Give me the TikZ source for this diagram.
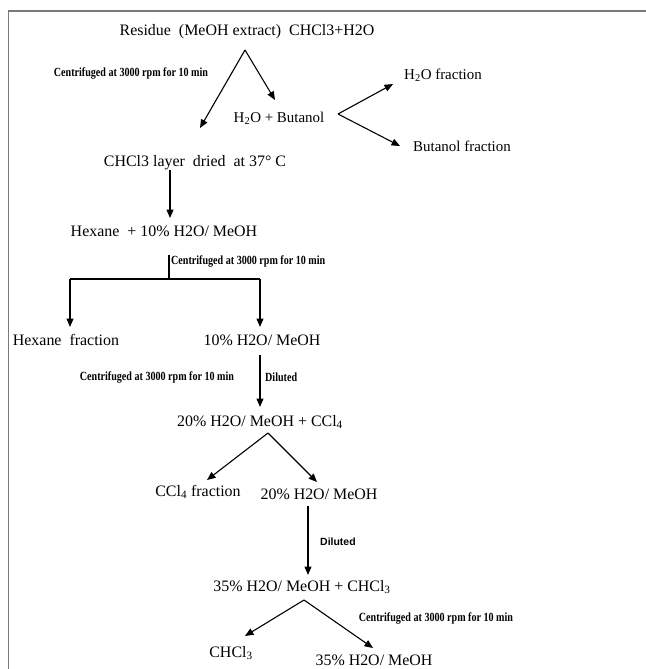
\documentclass[tikz,border=0pt]{standalone}
\usepackage{fontspec}
\setmainfont{Liberation Serif}
\newfontfamily\condfont[FakeStretch=0.81]{Liberation Serif}
\newfontfamily\labelsans{Liberation Sans}
\usetikzlibrary{arrows.meta}
\definecolor{frcInk}{HTML}{000000}
\definecolor{frcFrame}{HTML}{7A7A7A}
\tikzset{
  frc frame/.style={draw=frcFrame, line width=2pt},
  frc line/.style={draw=frcInk, line width=1.1pt},
  frc arrow/.style={frc line, -{Triangle[length=8.5pt,width=7pt]}},
  frc text/.style={inner sep=0pt, text=frcInk, font=\fontsize{16}{18}\selectfont},
  frc side/.style={inner sep=0pt, text=frcInk, font=\fontsize{15}{17}\selectfont},
  frc note/.style={inner sep=0pt, text=frcInk, font=\condfont\bfseries\fontsize{12.5}{14}\selectfont},
  frc sans note/.style={inner sep=0pt, text=frcInk, font=\labelsans\bfseries\fontsize{10.5}{12}\selectfont},
}
\begin{document}
\begin{tikzpicture}[x=1bp,y=-1bp]
  \useasboundingbox (0,0) rectangle (646,669);
  \draw[frc frame] (8.5,669) -- (8.5,11) -- (646,11);

  \node[frc text] (residue) at (247,32) {Residue~ (MeOH extract)~ CHCl3+H2O};
  \node[frc note] (centrA) at (131,73) {Centrifuged at 3000 rpm for 10 min};
  \node[frc side] (butmix) at (279,118) {H\textsubscript{2}O + Butanol};
  \node[frc side] (waterfrac) at (443,75) {H\textsubscript{2}O fraction};
  \node[frc side] (butfrac) at (462,146) {Butanol fraction};
  \node[frc text] (chlayer) at (195,163) {CHCl3 layer~ dried~ at 37° C};
  \node[frc text] (hexmix) at (164,231) {Hexane~ + 10\% H2O/ MeOH};
  \node[frc note, anchor=west] (centrB) at (171,261) {Centrifuged at 3000 rpm for 10 min};
  \node[frc text] (hexfrac) at (66,340) {Hexane~ fraction};
  \node[frc text] (tenmix) at (262,340) {10\% H2O/ MeOH};
  \node[frc note] (centrC) at (157,377) {Centrifuged at 3000 rpm for 10 min};
  \node[frc note, anchor=west] (dilA) at (265,377) {Diluted};
  \node[frc text] (twentymix) at (260,422) {20\% H2O/ MeOH + CCl\textsubscript{4}};
  \node[frc text] (cclfrac) at (198,492) {CCl\textsubscript{4} fraction};
  \node[frc text] (twentyaq) at (319,494) {20\% H2O/ MeOH};
  \node[frc sans note, anchor=west] (dilB) at (320,542) {Diluted};
  \node[frc text] (thirtymix) at (302,587) {35\% H2O/ MeOH + CHCl\textsubscript{3}};
  \node[frc note] (centrD) at (436,618) {Centrifuged at 3000 rpm for 10 min};
  \node[frc text] (chclfrac) at (231,653) {CHCl\textsubscript{3}};
  \node[frc text] (thirtyaq) at (374,660) {35\% H2O/ MeOH};

  \coordinate (splitA) at (245,50);
  \coordinate (tipA1) at (200,128);
  \coordinate (tipA2) at (275,100);
  \coordinate (splitB) at (338,114);
  \coordinate (tipB1) at (393,84);
  \coordinate (tipB2) at (400,146);
  \coordinate (downA) at (170,170);
  \coordinate (tipC) at (170,218);
  \coordinate (stem) at (169,255);
  \coordinate (fork) at (169,279);
  \coordinate (forkL) at (70,279);
  \coordinate (forkR) at (260,279);
  \coordinate (tipD1) at (70,327);
  \coordinate (tipD2) at (260,327);
  \coordinate (downE) at (260,355);
  \coordinate (tipE) at (260,407);
  \coordinate (splitF) at (268,433);
  \coordinate (tipF1) at (207,480);
  \coordinate (tipF2) at (317,482);
  \coordinate (downG) at (308,506);
  \coordinate (tipG) at (308,575);
  \coordinate (splitH) at (304,600);
  \coordinate (tipH1) at (245,636);
  \coordinate (tipH2) at (373,648);

  \draw[frc arrow] (splitA) -- (tipA1);
  \draw[frc arrow] (splitA) -- (tipA2);
  \draw[frc arrow] (splitB) -- (tipB1);
  \draw[frc arrow] (splitB) -- (tipB2);
  \draw[frc arrow] (downA) -- (tipC);
  \draw[frc line] (stem) -- (fork);
  \draw[frc line] (forkL) -- (forkR);
  \draw[frc arrow] (forkL) -- (tipD1);
  \draw[frc arrow] (forkR) -- (tipD2);
  \draw[frc arrow] (downE) -- (tipE);
  \draw[frc arrow] (splitF) -- (tipF1);
  \draw[frc arrow] (splitF) -- (tipF2);
  \draw[frc arrow] (downG) -- (tipG);
  \draw[frc arrow] (splitH) -- (tipH1);
  \draw[frc arrow] (splitH) -- (tipH2);
\end{tikzpicture}
\end{document}
